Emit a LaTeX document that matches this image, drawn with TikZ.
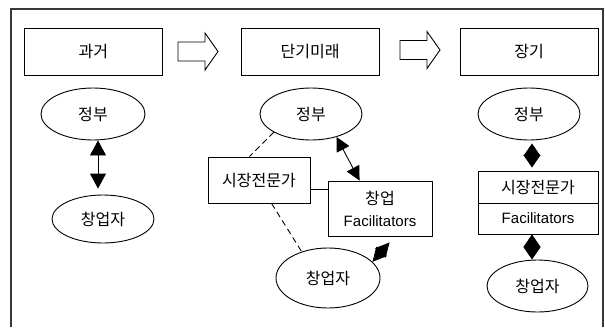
\documentclass[tikz,border=0pt]{standalone}
\usepackage{fontspec}
\setmainfont{Liberation Sans}
\newfontfamily\kr[Scale=1.07]{Noto Sans CJK KR}
\usetikzlibrary{shapes.geometric,arrows.meta}

\tikzset{
  base/.style={draw=black, line width=0.9pt, inner sep=0pt,
    font=\fontsize{15}{22}\selectfont, align=center},
  period/.style={base, rectangle, minimum width=138.5pt, minimum height=46.7pt},
  actor/.style={base, ellipse},
  agent/.style={base, rectangle},
  link/.style={line width=0.9pt},
  weak/.style={link, dash pattern=on 6pt off 4pt},
  dbl/.style={link, {Triangle[length=15pt,width=16pt]}-{Triangle[length=15pt,width=16pt]}},
  dblmid/.style={link, {Triangle[length=14pt,width=14pt]}-{Triangle[length=14pt,width=14pt]}},
  dblshort/.style={link, {Triangle[length=12.5pt,width=17pt]}-{Triangle[length=12.5pt,width=17pt]}},
  blockarrow/.pic={
    \draw[line width=0.9pt, line join=miter]
      (0,-9.5) -- (27,-9.5) -- (27,-18.5) -- (40,0) -- (27,18.5)
      -- (27,9.5) -- (0,9.5) -- cycle;
  }
}

\begin{document}
\begin{tikzpicture}[x=1pt, y=-1pt]
\useasboundingbox (0,0) rectangle (605,327);

% outer frame, open at the bottom
\draw[line width=2pt, draw=black!78] (10.7,327) -- (10.7,9.3) -- (603,9.3) -- (603,327);

% time periods
\node[period] (past) at (93.3,51.7) {\kr 과거};
\node[period] (near) at (310.2,51.7) {\kr 단기미래};
\node[period] (long) at (529.2,51.7) {\kr 장기};

\pic at (178,51.5) {blockarrow};
\pic at (400,50) {blockarrow};

% past
\node[actor, minimum width=104pt, minimum height=52pt] (gov1) at (93,114) {\kr 정부};
\node[actor, minimum width=102pt, minimum height=48pt] (ent1) at (103,219) {\kr 창업자};
\draw[dbl] ([xshift=5pt]gov1.south) -- ([xshift=-5pt,yshift=6pt]ent1.north);

% near future
\node[actor, minimum width=102pt, minimum height=52pt] (gov2) at (311,114) {\kr 정부};
\node[agent, minimum width=102pt, minimum height=46pt] (mk2) at (259,180) {\kr 시장전문가};
\node[agent, minimum width=104pt, minimum height=55pt] (fac2) at (380,208.5) {{\kr 창업}\\Facilitators};
\node[actor, minimum width=104pt, minimum height=60pt] (ent2) at (328,278) {\kr 창업자};
\draw[weak] (gov2.206) -- ([xshift=42pt]mk2.north west);
\draw[weak] ([xshift=64pt]mk2.south west) -- (ent2.135);
\draw[link] ([yshift=-9pt]mk2.east) -- ([yshift=-9pt]mk2.east -| fac2.west);
\draw[dblmid] (gov2.318) -- ([xshift=32pt]fac2.north west);
\draw[dblmid] ([shift={(62pt,-6pt)}]fac2.south west) -- (ent2.20);

% long term
\node[actor, minimum width=102pt, minimum height=52pt] (gov3) at (529,114) {\kr 정부};
\node[agent, minimum width=120pt, minimum height=32pt] (mk3) at (538,187) {\kr 시장전문가};
\node[agent, minimum width=120pt, minimum height=31pt] (fac3) at (538,218.5) {Facilitators};
\node[actor, minimum width=101pt, minimum height=52pt] (ent3) at (537.5,286) {\kr 창업자};
\draw[dblshort] ([shift={(3pt,-3pt)}]gov3.south) -- ([shift={(-6pt,3pt)}]mk3.north);
\draw[dblshort] ([xshift=-6pt]fac3.south) -- ([xshift=-5.5pt]ent3.north);
\end{tikzpicture}
\end{document}
